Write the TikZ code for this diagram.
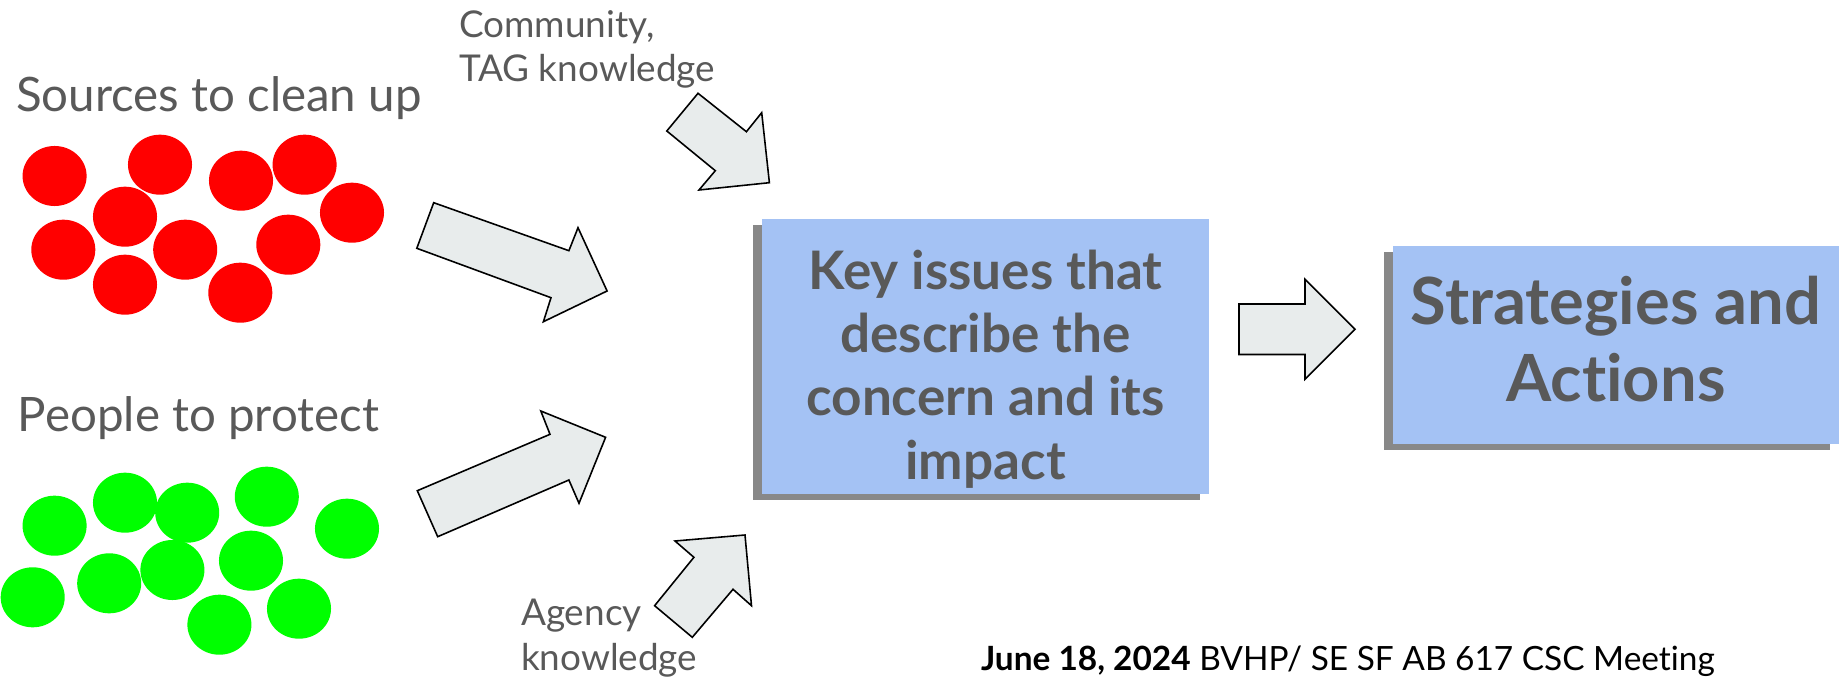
\documentclass[tikz,border=0pt]{standalone}
\usepackage{fontspec}
\setmainfont{Lato}[Ligatures=NoCommon]
\usetikzlibrary{shapes.geometric}
\usetikzlibrary{shadows}
\definecolor{boxblue}{HTML}{A4C2F4}
\definecolor{txtgray}{HTML}{595959}
\definecolor{arrowfill}{HTML}{E8ECEC}
\definecolor{srcred}{HTML}{FF0000}
\definecolor{pplgreen}{HTML}{00FF00}
\tikzstyle{every node}=[inner sep=0pt,outer sep=0pt]
\tikzstyle{srcdot}=[ellipse,fill=srcred,minimum width=6.4mm,minimum height=6mm]
\tikzstyle{ppldot}=[ellipse,fill=pplgreen,minimum width=6.4mm,minimum height=6mm]
\tikzstyle{blockarrow}=[draw=black,fill=arrowfill,line width=0.45pt,line join=miter]
\tikzstyle{bluebox}=[fill=boxblue,drop shadow={shadow xshift=-0.9mm,shadow yshift=-0.6mm,fill=black!55,opacity=0.85}]
\tikzstyle{grouplabel}=[text=txtgray,anchor=base west,font=\fontsize{13.5}{16}\selectfont]
\tikzstyle{sidelabel}=[text=txtgray,anchor=base west,align=left,font=\fontsize{10.5}{12.6}\selectfont]
\tikzstyle{boxtext}=[text=txtgray,align=center]

\begin{document}
\begin{tikzpicture}[x=0.01cm,y=-0.01cm]
    \useasboundingbox (0,0) rectangle (1845,682);

    % Group labels
    \node[grouplabel] (srclabel) at (16,111.7) {Sources to clean up};
    \node[grouplabel] (ppllabel) at (18,431.7) {People to protect};

    % Sources (red)
    \node[srcdot] (s1) at (54.6,176) {};   \node[srcdot] (s2) at (160,164.7) {};
    \node[srcdot] (s3) at (241,180.7) {};  \node[srcdot] (s4) at (304.6,164.7) {};
    \node[srcdot] (s5) at (125,216.7) {};  \node[srcdot] (s6) at (352,212.7) {};
    \node[srcdot] (s7) at (63.3,249.7) {}; \node[srcdot] (s8) at (185.2,249.7) {};
    \node[srcdot] (s9) at (288.3,244.7) {};\node[srcdot] (s10) at (125,284.7) {};
    \node[srcdot] (s11) at (240.3,292.7) {};

    % People (green)
    \node[ppldot] (p1) at (54.6,525.7) {};  \node[ppldot] (p2) at (125,502.7) {};
    \node[ppldot] (p3) at (187.2,512.7) {}; \node[ppldot] (p4) at (266.8,496.7) {};
    \node[ppldot] (p5) at (347,528.7) {};   \node[ppldot] (p6) at (32.7,597.3) {};
    \node[ppldot] (p7) at (109.2,583.3) {}; \node[ppldot] (p8) at (172.4,570) {};
    \node[ppldot] (p9) at (251,560.7) {};   \node[ppldot] (p10) at (219.4,624.7) {};
    \node[ppldot] (p11) at (299,608.7) {};

    % Boxes
    \node[bluebox,minimum width=4.47cm,minimum height=2.75cm] (issues) at (985.5,356.5) {};
    \node[boxtext,font=\bfseries\fontsize{15.1}{18}\selectfont] (issuestext) at (985.5,369)
        {Key issues that\\describe the\\concern and its\\impact};
    \node[bluebox,minimum width=4.46cm,minimum height=1.98cm] (strategies) at (1616,345) {};
    \node[boxtext,font=\bfseries\fontsize{18.5}{21.8}\selectfont] (strattext) at (1616,339)
        {Strategies and\\Actions};

    % Knowledge inputs (base = last line)
    \node[sidelabel] (community) at (459,81.7) {Community,\\TAG knowledge};
    \node[sidelabel] (agency) at (521,670) {Agency\\knowledge};

    % Block arrows
    \draw[blockarrow] (698,93.3) -- (746.4,131.7) -- (761.7,112.7) -- (769.4,182.7)
        -- (699,190) -- (715.3,170.7) -- (666.8,131) -- cycle;
    \draw[blockarrow] (433.7,202.7) -- (568.9,250.7) -- (578,227.7) -- (607.1,291)
        -- (543.4,321.7) -- (551,297.7) -- (416.8,248.3) -- cycle;
    \draw[blockarrow] (417.3,490.7) -- (550,434.3) -- (540.8,411) -- (605.6,437.3)
        -- (579,503.3) -- (568.9,480) -- (437.7,536.7) -- cycle;
    \draw[blockarrow] (675,541) -- (745,535) -- (751.5,605.7) -- (733,589.3)
        -- (692.3,637.3) -- (654.6,605.7) -- (693.9,557.3) -- cycle;
    \draw[blockarrow] (1239,304) -- (1305,304) -- (1305,279.3) -- (1355,329.3)
        -- (1305,379.3) -- (1305,354.5) -- (1239,354.5) -- cycle;

    % Footer
    \node[anchor=base west,font=\fontsize{9.5}{11}\selectfont] (footer) at (981,670)
        {\textbf{June 18, 2024} BVHP/ SE SF AB 617 CSC Meeting};
\end{tikzpicture}
\end{document}
